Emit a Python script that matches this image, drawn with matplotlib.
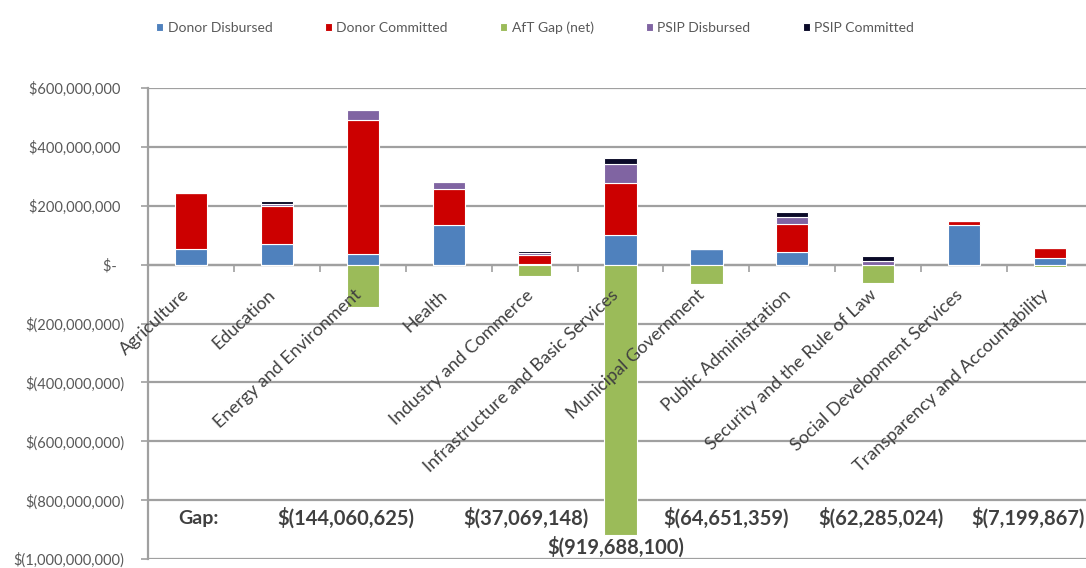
import matplotlib.pyplot as plt
import numpy as np
from matplotlib.ticker import FuncFormatter, MultipleLocator
from matplotlib.transforms import ScaledTranslation

sectors = ['Agriculture', 'Education', 'Energy and Environment', 'Health',
           'Industry and Commerce', 'Infrastructure and Basic Services',
           'Municipal Government', 'Public Administration',
           'Security and the Rule of Law', 'Social Development Services',
           'Transparency and Accountability']

# values in $ millions
donor_disbursed = [52, 71, 37, 133, 2, 102, 54, 42, 0, 133, 24]
donor_committed = [193, 129, 455, 123, 30, 175, 0, 95, 0, 14, 32]
psip_disbursed = [0, 7, 32, 23, 6, 66, 0, 26, 14, 0, 0]
psip_committed = [0, 10, 0, 3, 7, 18, 0, 17, 16, 0, 0]
# AfT gap (net), exact dollars from the labels
aft_gap = [0, 0, -144060625, 0, -37069148, -919688100, -64651359, 0,
           -62285024, 0, -7199867]

# where the gap labels sit (category units, $ value)
gap_label_x = [1.80, 3.90, 4.95, 6.23, 8.03, 9.74]
gap_label_y = [-862e6, -862e6, -958e6, -862e6, -862e6, -862e6]

colors = {'dd': '#4F81BD', 'dc': '#CC0000', 'gap': '#9BBB59',
          'pd': '#8064A2', 'pc': '#0A0A28'}
txt = '#595959'
grid_c = '#a0a0a0'

plt.rcParams['font.family'] = ['Lato', 'DejaVu Sans']

fig = plt.figure(figsize=(10.86, 5.68), dpi=100)
ax = fig.add_axes([148 / 1086, 9 / 568, 945 / 1086, 471 / 568])

x = np.arange(len(sectors))
w = 0.375
M = 1e6
dd = np.array(donor_disbursed) * M
dc = np.array(donor_committed) * M
pd_ = np.array(psip_disbursed) * M
pc = np.array(psip_committed) * M
gap = np.array(aft_gap, dtype=float)

kw = dict(width=w, edgecolor='white', linewidth=0.8, zorder=3)
b1 = ax.bar(x, dd, color=colors['dd'], label='Donor Disbursed', **kw)
b2 = ax.bar(x, dc, bottom=dd, color=colors['dc'], label='Donor Committed', **kw)
b3 = ax.bar(x, gap, color=colors['gap'], label='AfT Gap (net)', **kw)
b4 = ax.bar(x, pd_, bottom=dd + dc, color=colors['pd'], label='PSIP Disbursed', **kw)
b5 = ax.bar(x, pc, bottom=dd + dc + pd_, color=colors['pc'], label='PSIP Committed', **kw)

ax.set_xlim(-0.5, len(sectors) - 0.5)
ax.set_ylim(-1000 * M, 600 * M)
ax.yaxis.set_major_locator(MultipleLocator(200 * M))


def acct(v, pos):
    if abs(v) < 1:
        return '$-  '
    if v < 0:
        return '$({:,.0f})'.format(-v)
    return '${:,.0f} '.format(v)


ax.yaxis.set_major_formatter(FuncFormatter(acct))
ax.grid(axis='y', color=grid_c, linewidth=1.6, zorder=0)
ax.set_axisbelow(True)

for s in ['top', 'right']:
    ax.spines[s].set_visible(False)
ax.spines['left'].set_color(grid_c)
ax.spines['left'].set_linewidth(1.6)
ax.spines['bottom'].set_position(('data', 0))
ax.spines['bottom'].set_color(grid_c)
ax.spines['bottom'].set_linewidth(1.6)

ax.tick_params(axis='y', colors=grid_c, labelcolor=txt, labelsize=10.5,
               length=5, width=1.2, pad=12)
ax.set_xticks(np.arange(-0.5, len(sectors)))
ax.tick_params(axis='x', length=5, width=1.2, color=grid_c, labelbottom=False)

# category labels drawn as text so they sit above the bars
off = ax.transData + ScaledTranslation(-0.04, -0.28, fig.dpi_scale_trans)
for xi, name in zip(x, sectors):
    ax.text(xi, 0, name, transform=off, rotation=43, ha='right', va='center',
            rotation_mode='anchor', fontsize=13, color='#404040', zorder=6)

ax.text(0.09, -862e6, 'Gap:', ha='center', va='center', fontsize=14,
        fontweight='bold', color='#404040', zorder=6)
neg = [g for g in aft_gap if g < 0]
for gx, gy, g in zip(gap_label_x, gap_label_y, neg):
    ax.text(gx, gy, '$({:,.0f})'.format(-g), ha='center', va='center',
            fontsize=14.5, fontweight='bold', color='#404040', zorder=6)

fig.legend(handles=[b1, b2, b3, b4, b5], loc='center', ncol=5,
           bbox_to_anchor=(0.493, 0.952), frameon=False, fontsize=10,
           labelcolor=txt, handlelength=0.5, handleheight=0.5,
           handletextpad=0.3, columnspacing=3.8)

fig.savefig('out.png', dpi=100)
